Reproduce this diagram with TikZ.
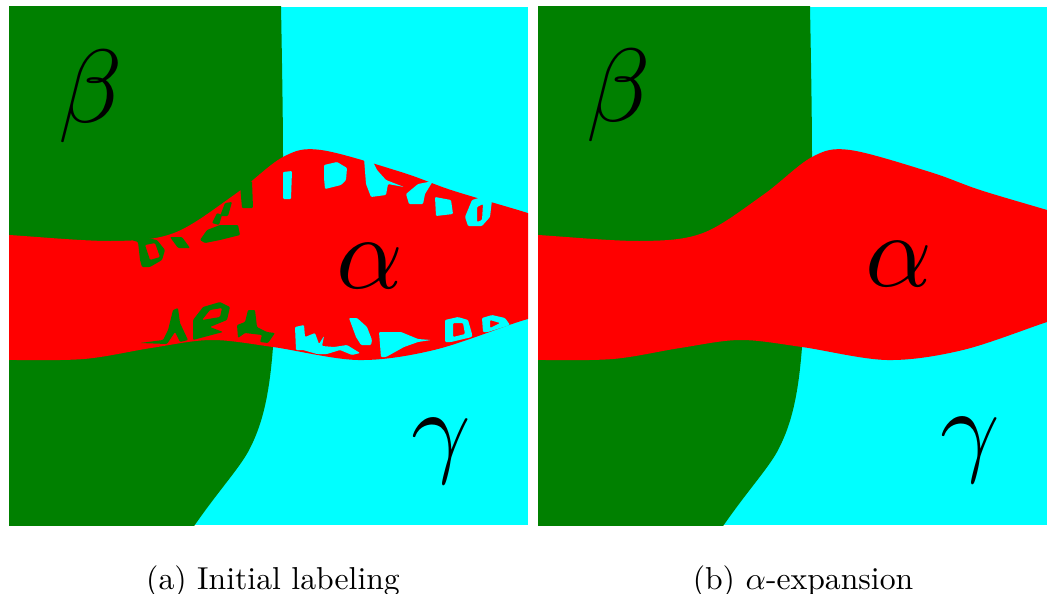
\documentclass[tikz,border=0pt]{standalone}
\definecolor{grc}{RGB}{0,128,0}
\definecolor{cyc}{RGB}{0,255,255}
\definecolor{rdc}{RGB}{255,0,0}
\tikzset{
  greek/.style={inner sep=0pt, scale=10.4},
  capt/.style={inner sep=0pt, scale=3.17, anchor=base},
  gblob/.style={fill=grc, even odd rule, rounded corners=1pt},
  cblob/.style={fill=cyc, even odd rule, rounded corners=1pt}
}
\newcommand{\basemap}{%
  \fill[cyc] (9,7) rectangle (528,525);
  \fill[grc] (0,0) -- (281,0) -- (281,7) .. controls (282,60) and (283,120) .. (283,157) -- (280,260)
     -- (273,347) .. controls (269,400) and (261,428) .. (248,452)
     .. controls (238,470) and (215,495) .. (190,532)
     -- (0,540) -- cycle;
  \fill[rdc] plot[smooth,tension=0.55] coordinates {(0,235) (9,235) (111,241) (174,233) (234,195) (283,157) (321,150) (401,172) (451,190) (518,210) (540,217)}
     -- plot[smooth,tension=0.55] coordinates {(540,316) (518,322) (434,350) (358,360) (273,347) (211,340) (151,348) (84,359) (9,360) (0,360)}
     -- cycle;
}
\begin{document}
\begin{tikzpicture}[x=1pt,y=-1pt]
\path[use as bounding box] (0,0) rectangle (1047,594);
% panel (a)
\begin{scope}
  \clip (9,7) rectangle (528,525);
  \basemap
  % green noise, upper
  \path[gblob] (132,240) -- (138,242) -- (140,260) -- (142,267) -- (150,267) -- (162,260) -- (165,250) -- (157,240) -- (147,238) -- cycle
               (145,245) -- (155,243) -- (160,257) -- (150,260) -- cycle;
  \path[gblob] (170,237) -- (178,248) -- (190,248) -- (182,237) -- cycle;
  \path[gblob] (200,240) -- (207,230) -- (220,225) -- (238,225) -- (240,235) -- (220,240) -- (205,243) -- cycle;
  \path[gblob] (212,223) -- (217,213) -- (222,215) -- (219,225) -- cycle;
  \path[gblob] (225,203) -- (232,202) -- (228,216) -- (220,216) -- cycle;
  \path[gblob] (240,185) -- (252,181) -- (253,208) -- (242,208) -- cycle;
  % cyan noise, upper
  \path[cblob] (283,172) -- (292,171) -- (291,199) -- (283,199) -- cycle;
  \path[cblob] (324,165) -- (337,162) -- (347,168) -- (346,180) -- (341,185) -- (325,189) -- (324,178) -- cycle;
  \path[cblob] (364,158) -- (371,158) -- (377,170) -- (386,180) -- (404,187) -- (388,184) -- (386,195) -- (371,197) -- (366,184) -- cycle;
  \path[cblob] (406,194) -- (418,184) -- (433,181) -- (425,194) -- (423,204) -- (409,204) -- cycle;
  \path[cblob] (435,197) -- (451,200) -- (453,214) -- (436,216) -- cycle;
  \path[cblob] (465,217) -- (472,200) -- (482,197) -- (492,200) -- (490,217) -- (482,226) -- (468,226) -- cycle
               (477,207) -- (483,204) -- (482,220) -- (477,222) -- cycle;
  % green noise, lower
  \path[gblob] (140,343) -- (163,340) -- (168,330) -- (173,310) -- (178,308) -- (180,323) -- (188,340) -- (180,342) -- (175,332) -- (167,344) -- cycle;
  \path[gblob] (193,320) -- (203,307) -- (220,302) -- (230,307) -- (227,320) -- (210,327) -- (223,332) -- (193,340) -- cycle
               (202,320) -- (210,310) -- (222,308) -- (220,317) -- cycle;
  \path[gblob] (237,325) -- (245,322) -- (248,310) -- (255,310) -- (257,327) -- (267,332) -- (275,333) -- (268,343) -- (260,342) -- (262,335) -- (245,333) -- (238,338) -- cycle;
  % cyan noise, lower
  \path[cblob] (295,327) -- (304,325) -- (305,337) -- (315,333) -- (319,344) -- (324,336) -- (322,346) -- (334,347) -- (347,345) -- (360,353) -- (352,355) -- (340,350) -- (327,354) -- (317,354) -- (303,350) -- (296,350) -- cycle;
  \path[cblob] (349,318) -- (357,318) -- (367,327) -- (372,340) -- (371,345) -- (361,345) -- (356,337) -- cycle;
  \path[cblob] (379,332) -- (401,332) -- (418,339) -- (431,340) -- (418,342) -- (404,347) -- (386,357) -- (381,357) -- cycle;
  \path[cblob] (445,320) -- (458,317) -- (468,320) -- (472,334) -- (472,337) -- (451,342) -- (445,342) -- cycle
               (453,323) -- (463,323) -- (465,334) -- (453,337) -- cycle;
  \path[cblob] (482,318) -- (492,315) -- (505,318) -- (510,325) -- (488,332) -- (483,332) -- cycle
               (490,320) -- (500,323) -- (490,328) -- cycle;
\end{scope}
% panel (b)
\begin{scope}[shift={(529,0)}]
  \clip (9,7) rectangle (518,525);
  \basemap
\end{scope}
% labels
\node[greek] (betaA)  at (91,96)   {$\beta$};
\node[greek] (alphaA) at (370,266) {$\alpha$};
\node[greek] (gammaA) at (441,451) {$\gamma$};
\node[greek] (betaB)  at (619,95)  {$\beta$};
\node[greek] (alphaB) at (899,264) {$\alpha$};
\node[greek] (gammaB) at (970,450) {$\gamma$};
\node[capt] (capA) at (273,589) {(a) Initial labeling};
\node[capt] (capB) at (803,589) {(b) $\alpha$-expansion};
\end{tikzpicture}
\end{document}
